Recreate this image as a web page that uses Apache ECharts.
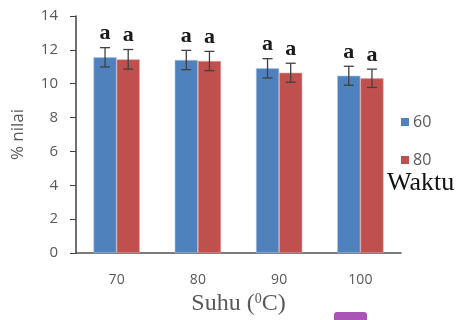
<!DOCTYPE html>
<html><head><meta charset="utf-8">
<script src="https://cdn.jsdelivr.net/npm/echarts@6/dist/echarts.min.js"></script>
<style>html,body{margin:0;padding:0;background:#fff}#c{width:458px;height:320px}</style>
</head><body><div id="c"></div>
<script>
const categories = ['70', '80', '90', '100'];
const seriesNames = ['60', '80'];
const values60 = [11.56, 11.40, 10.91, 10.47];
const values80 = [11.44, 11.34, 10.65, 10.32];
const err60 = [0.57, 0.57, 0.57, 0.56];
const err80 = [0.58, 0.57, 0.56, 0.54];
const letters60 = ['a', 'a', 'a', 'a'];
const letters80 = ['a', 'a', 'a', 'a'];
const yTicks = [0, 2, 4, 6, 8, 10, 12, 14];

const chart = echarts.init(document.getElementById('c'));
const gap = 0.43;
function errSeries(vals, errs, letters, side) {
  return {
    type: 'custom', z: 10,
    data: vals.map((v, i) => [i, v, errs[i]]),
    renderItem: function (params, api) {
      const idx = api.value(0), v = api.value(1), e = api.value(2);
      const band = api.size([1, 0])[0];
      const bw = band * (1 - gap) / 2;
      const c = api.coord([idx, v]);
      const x = c[0] + side * bw / 2;
      const top = api.coord([idx, v + e])[1];
      const bot = api.coord([idx, v - e])[1];
      const cap = 5;
      const st = { stroke: '#404040', lineWidth: 1.3 };
      return { type: 'group', children: [
        { type: 'line', shape: { x1: x, y1: top, x2: x, y2: bot }, style: st },
        { type: 'line', shape: { x1: x - cap, y1: top, x2: x + cap, y2: top }, style: st },
        { type: 'line', shape: { x1: x - cap, y1: bot, x2: x + cap, y2: bot }, style: st },
        { type: 'text', style: { text: letters[idx], x: x, y: top - 3, textAlign: 'center', textVerticalAlign: 'bottom', font: 'bold 22px "Liberation Serif"', fill: '#1a1a1a' } }
      ] };
    }
  };
}
chart.setOption({
  animation: false,
  grid: { left: 76, right: 57, top: 16, bottom: 67, outerBoundsMode: 'none', containLabel: false },
  legend: {
    orient: 'vertical', left: 396, top: 109, itemWidth: 8, itemHeight: 8, itemGap: 22,
    data: seriesNames, icon: 'rect', itemStyle: { borderWidth: 0 },
    textStyle: { color: '#595959', fontSize: 16, fontFamily: 'Open Sans', padding: [0, 0, 0, -1] }
  },
  xAxis: {
    type: 'category', data: categories,
    axisLine: { lineStyle: { color: '#505050', width: 1.5 } },
    axisTick: { show: false },
    axisLabel: { color: '#595959', fontSize: 14, margin: 20, fontFamily: 'Open Sans' },
    name: '{n|Suhu (}{s|0}{n|C)}', nameLocation: 'middle', nameGap: 36,
    nameTextStyle: { rich: {
      n: { fontFamily: 'Liberation Serif', fontSize: 24, color: '#595959' },
      s: { fontFamily: 'Liberation Serif', fontSize: 14, color: '#595959', verticalAlign: 'top', padding: [0, 0, 10, 0] }
    } }
  },
  yAxis: {
    type: 'value', min: 0, max: 14, interval: 2,
    axisLine: { show: true, lineStyle: { color: '#404040', width: 1.5 } },
    axisTick: { show: true, length: 6, lineStyle: { color: '#404040' } },
    splitLine: { show: false },
    axisLabel: { color: '#595959', fontSize: 15, margin: 18, fontFamily: 'Open Sans' },
    name: '% nilai', nameLocation: 'middle', nameGap: 49,
    nameTextStyle: { color: '#595959', fontSize: 17, fontFamily: 'Open Sans' }
  },
  series: [
    { name: seriesNames[0], type: 'bar', data: values60, barGap: '0%', barCategoryGap: '43%',
      itemStyle: { color: '#4F81BD', borderColor: '#a9c3e6', borderWidth: 0.6 } },
    { name: seriesNames[1], type: 'bar', data: values80,
      itemStyle: { color: '#C0504D', borderColor: '#e3a3a1', borderWidth: 0.6 } },
    errSeries(values60, err60, letters60, -1),
    errSeries(values80, err80, letters80, 1)
  ],
  graphic: [
    { type: 'text', left: 387, top: 170, style: { text: 'Waktu', font: '26px "Liberation Serif"', fill: '#111', shadowBlur: 2, shadowColor: 'rgba(0,0,0,0.4)' } },
    { type: 'rect', shape: { x: 334, y: 312, width: 33, height: 12, r: 3 }, style: { fill: '#a855b5' } }
  ]
});
</script></body></html>
